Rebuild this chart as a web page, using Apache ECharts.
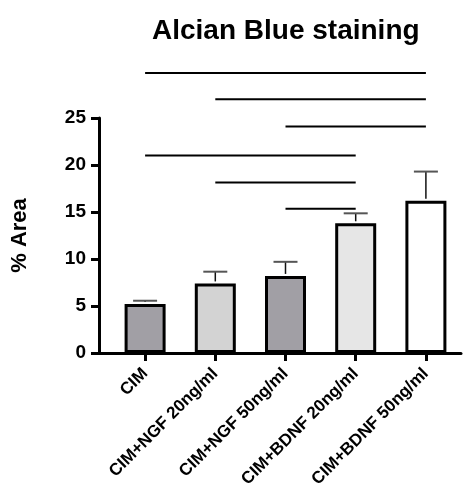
<!DOCTYPE html>
<html>
<head>
<meta charset="utf-8">
<script src="https://cdn.jsdelivr.net/npm/echarts@6/dist/echarts.min.js"></script>
<style>html,body{margin:0;padding:0;background:#fff;}#c{width:469px;height:491px;}</style>
</head>
<body>
<div id="c"></div>
<script>
var categories = ['CIM', 'CIM+NGF 20ng/ml', 'CIM+NGF 50ng/ml', 'CIM+BDNF 20ng/ml', 'CIM+BDNF 50ng/ml'];
var means = [5.2, 7.4, 8.2, 13.8, 16.2];
var errors = [0.36, 1.25, 1.5, 1.06, 3.1];
var barColors = ['#a19fa5', '#d3d3d3', '#a19fa5', '#e6e6e6', '#ffffff'];
var sigStart = [0, 1, 2, 0, 1, 2];
var sigEnd = [4, 4, 4, 3, 3, 3];
var sigHeight = [29.8, 27.0, 24.1, 21.0, 18.15, 15.35];
var yTicks = [0, 5, 10, 15, 20, 25];

var FONT = '"Liberation Sans", Arial, Helvetica, sans-serif';
var chart = echarts.init(document.getElementById('c'), null, {renderer: 'canvas'});

var barData = means.map(function (v, i) {
  return {value: v, itemStyle: {color: barColors[i]}};
});
var errData = means.map(function (v, i) { return [i, v, v + errors[i]]; });
var sigData = sigStart.map(function (s, i) { return [s, sigEnd[i], sigHeight[i]]; });

var option = {
  animation: false,
  backgroundColor: '#ffffff',
  title: {
    text: 'Alcian Blue staining',
    left: 147, top: 12,
    textStyle: {fontFamily: FONT, fontWeight: 'bold', fontSize: 28, color: '#000'}
  },
  grid: [
    {left: 110, right: 8, top: 118, bottom: 138},
    {left: 99, right: 8, top: 118, bottom: 138}
  ],
  xAxis: [
    {
      type: 'category', gridIndex: 0, data: categories,
      axisLine: {show: false},
      axisTick: {show: true, alignWithLabel: true, length: 8, lineStyle: {color: '#000', width: 3}},
      axisLabel: {rotate: 45, margin: 18, interval: 0, color: '#000', fontFamily: FONT, fontWeight: 'bold', fontSize: 17},
      splitLine: {show: false}
    },
    {
      type: 'value', gridIndex: 1, min: 0, max: 1,
      axisLine: {show: true, lineStyle: {color: '#000', width: 3}},
      axisTick: {show: false}, axisLabel: {show: false}, splitLine: {show: false}
    }
  ],
  yAxis: [
    {
      type: 'value', gridIndex: 0, min: yTicks[0], max: yTicks[yTicks.length - 1], interval: 5,
      offset: 11,
      name: '% Area', nameLocation: 'middle', nameRotate: 90, nameGap: 68,
      nameTextStyle: {fontFamily: FONT, fontWeight: 'bold', fontSize: 22, color: '#000'},
      axisLine: {show: true, lineStyle: {color: '#000', width: 3}},
      axisTick: {show: true, length: 8, lineStyle: {color: '#000', width: 3}},
      axisLabel: {margin: 13, color: '#000', fontFamily: FONT, fontWeight: 'bold', fontSize: 19},
      splitLine: {show: false}
    },
    {
      type: 'value', gridIndex: 1, show: false, min: 0, max: 1
    }
  ],
  series: [
    {
      type: 'bar', xAxisIndex: 0, yAxisIndex: 0, data: barData, barWidth: 41,
      itemStyle: {borderColor: '#000', borderWidth: 3},
      z: 2
    },
    {
      type: 'custom', xAxisIndex: 0, yAxisIndex: 0, data: errData,
      encode: {x: 0, y: [1, 2]}, z: 3,
      renderItem: function (params, api) {
        var x = api.value(0);
        var p0 = api.coord([x, api.value(1)]);
        var p1 = api.coord([x, api.value(2)]);
        var hw = 12;
        return {
          type: 'group',
          children: [
            {type: 'line', shape: {x1: p0[0], y1: p0[1] - 2, x2: p1[0], y2: p1[1]}, style: {stroke: '#111', lineWidth: 1.5}},
            {type: 'line', shape: {x1: p1[0] - hw, y1: p1[1], x2: p1[0] + hw, y2: p1[1]}, style: {stroke: '#555', lineWidth: 2}}
          ]
        };
      }
    },
    {
      type: 'custom', xAxisIndex: 0, yAxisIndex: 0, data: sigData, clip: false,
      encode: {x: [0, 1], y: 2}, z: 3,
      renderItem: function (params, api) {
        var a = api.coord([api.value(0), api.value(2)]);
        var b = api.coord([api.value(1), api.value(2)]);
        return {type: 'line', shape: {x1: a[0], y1: a[1], x2: b[0], y2: b[1]}, style: {stroke: '#000', lineWidth: 2}};
      }
    }
  ]
};
chart.setOption(option);
</script>
</body>
</html>
